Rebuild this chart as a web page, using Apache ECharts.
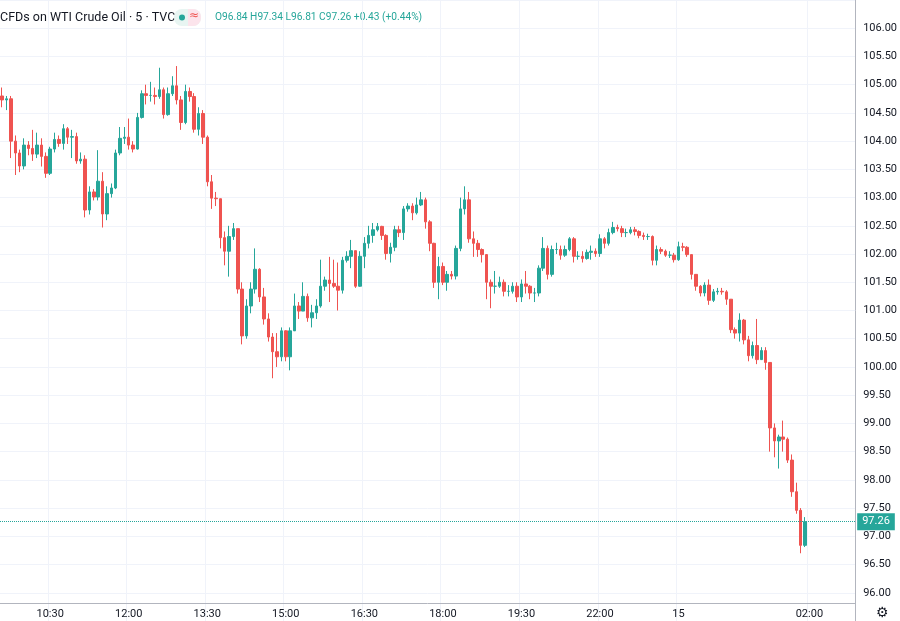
<!DOCTYPE html>
<html>
<head>
    <meta charset='utf-8'>
    <script src="https://cdn.jsdelivr.net/npm/echarts@6/dist/echarts.min.js"></script>
</head>
<body>
<style>
    html, body, #main {
        width: 100%;
        height: 100%;
        margin: 0;
        padding: 0;
        background: #fff;
    }
</style>
<div id="main"></div>
<script>
    // 5-minute candles
    var firstOpen = 104.80;
    var closes = [
        104.73, 104.75, 104.00, 103.79, 103.56, 103.93, 103.87, 103.77, 103.93, 103.73,
        103.43, 103.86, 104.03, 103.96, 104.22, 104.07, 104.08, 103.65, 103.68, 102.78,
        103.10, 103.01, 103.29, 102.71, 103.07, 103.17, 103.79, 104.05, 104.07, 103.93,
        103.86, 104.42, 104.84, 104.81, 104.81, 104.79, 104.91, 104.47, 104.84, 104.98,
        104.73, 104.33, 104.88, 104.79, 104.21, 104.49, 104.07, 103.28, 102.99, 102.98,
        102.29, 102.05, 102.31, 102.45, 101.38, 100.55, 101.08, 101.38, 101.73, 101.24,
        100.85, 100.53, 100.27, 100.18, 100.64, 100.18, 100.64, 101.08, 100.99, 101.25,
        100.87, 100.96, 101.08, 101.43, 101.54, 101.48, 101.43, 101.36, 101.89, 101.96,
        102.06, 101.43, 101.96, 102.19, 102.33, 102.43, 102.49, 102.33, 102.01, 102.12,
        102.43, 102.38, 102.80, 102.85, 102.73, 102.87, 102.96, 102.57, 102.19, 101.50,
        101.78, 101.50, 101.64, 101.61, 102.10, 102.80, 102.96, 102.27, 102.19, 102.08,
        101.99, 101.50, 101.43, 101.43, 101.50, 101.34, 101.34, 101.43, 101.24, 101.47,
        101.43, 101.31, 101.31, 101.75, 102.10, 101.64, 102.08, 102.08, 101.98, 102.08,
        102.27, 101.96, 101.96, 101.92, 102.03, 102.05, 102.01, 102.27, 102.19, 102.38,
        102.47, 102.45, 102.38, 102.38, 102.43, 102.40, 102.33, 102.31, 102.31, 101.89,
        102.08, 102.05, 101.98, 101.98, 101.90, 102.13, 102.12, 101.99, 101.64, 101.43,
        101.31, 101.45, 101.18, 101.33, 101.34, 101.33, 101.20, 100.66, 100.60, 100.83,
        100.48, 100.20, 100.38, 100.13, 100.29, 100.08, 98.92, 98.69, 98.76, 98.72,
        98.35, 97.79, 97.46, 96.84, 97.26
    ];
    var highs = [
        104.95, 104.80, 104.80, 104.10, 103.85, 104.05, 104.00, 104.20, 104.15, 104.05,
        103.80, 103.90, 104.15, 104.10, 104.30, 104.25, 104.20, 104.15, 103.80, 103.75,
        103.20, 103.15, 103.84, 103.45, 103.20, 103.25, 103.85, 104.25, 104.25, 104.40,
        104.00, 104.50, 104.90, 105.00, 105.05, 104.95, 105.30, 104.95, 104.95, 105.15,
        105.33, 104.80, 105.00, 104.95, 104.85, 104.60, 104.55, 104.10, 103.40, 103.10,
        102.98, 102.40, 102.50, 102.55, 102.45, 101.50, 101.20, 101.50, 102.10, 101.75,
        101.40, 100.95, 100.60, 100.60, 100.70, 100.65, 100.70, 101.30, 101.15, 101.50,
        101.30, 101.10, 101.20, 101.90, 101.60, 101.95, 101.90, 101.85, 101.95, 102.05,
        102.25, 102.06, 102.05, 102.30, 102.50, 102.55, 102.55, 102.50, 102.35, 102.20,
        102.50, 102.50, 102.85, 102.90, 102.90, 103.00, 103.10, 103.00, 102.60, 102.20,
        101.95, 101.85, 101.70, 101.70, 102.15, 103.00, 103.20, 103.10, 102.40, 102.25,
        102.10, 102.00, 101.55, 101.70, 101.60, 101.55, 101.45, 101.50, 101.50, 101.55,
        101.70, 101.45, 101.40, 101.80, 102.30, 102.15, 102.15, 102.20, 102.15, 102.15,
        102.30, 102.30, 102.05, 102.05, 102.08, 102.15, 102.10, 102.35, 102.30, 102.45,
        102.57, 102.52, 102.50, 102.45, 102.48, 102.48, 102.42, 102.38, 102.36, 102.33,
        102.15, 102.12, 102.08, 102.05, 102.02, 102.22, 102.20, 102.14, 101.99, 101.64,
        101.45, 101.50, 101.55, 101.38, 101.40, 101.40, 101.36, 101.20, 100.70, 100.95,
        100.85, 100.55, 100.45, 100.85, 100.35, 100.35, 100.08, 99.00, 98.80, 99.05,
        98.75, 98.45, 97.95, 97.50, 97.34
    ];
    var lows = [
        104.60, 104.55, 103.70, 103.40, 103.45, 103.50, 103.75, 103.65, 103.70, 103.55,
        103.35, 103.40, 103.80, 103.90, 103.85, 103.95, 103.70, 103.60, 103.60, 102.65,
        102.70, 102.95, 102.95, 102.47, 102.60, 103.00, 103.15, 103.75, 103.95, 103.85,
        103.80, 103.85, 104.40, 104.65, 104.70, 104.65, 104.75, 104.40, 104.45, 104.80,
        104.65, 104.20, 104.30, 104.70, 104.15, 104.10, 103.95, 103.20, 102.80, 102.85,
        102.10, 101.80, 101.60, 102.25, 101.30, 100.40, 100.50, 100.95, 101.30, 101.15,
        100.75, 100.45, 99.80, 100.00, 100.10, 100.10, 99.94, 101.00, 100.85, 101.20,
        100.80, 100.70, 100.85, 101.05, 101.35, 101.15, 101.40, 101.00, 101.30, 101.85,
        101.75, 101.40, 101.42, 101.75, 102.10, 102.20, 102.40, 102.25, 101.90, 101.85,
        102.05, 102.30, 102.25, 102.75, 102.60, 102.70, 102.85, 102.45, 102.05, 101.40,
        101.20, 101.45, 101.35, 101.55, 101.55, 102.05, 102.70, 102.20, 101.95, 101.95,
        101.85, 101.20, 101.04, 101.30, 101.40, 101.25, 101.25, 101.30, 101.15, 101.15,
        101.30, 101.20, 101.15, 101.25, 101.70, 101.55, 101.60, 102.00, 101.90, 101.95,
        102.05, 101.85, 101.90, 101.85, 101.90, 101.90, 101.95, 101.95, 102.10, 102.15,
        102.35, 102.40, 102.30, 102.30, 102.35, 102.33, 102.28, 102.25, 102.25, 101.80,
        101.80, 102.00, 101.95, 101.93, 101.85, 101.88, 102.05, 101.95, 101.55, 101.35,
        101.25, 101.25, 101.10, 101.15, 101.28, 101.28, 101.10, 100.60, 100.50, 100.45,
        100.40, 100.10, 100.15, 100.05, 100.20, 99.95, 98.50, 98.40, 98.20, 98.50,
        98.30, 97.70, 97.40, 96.70, 96.81
    ];
    // time labels and the bar index where each sits
    var tickIdx = [11, 29, 47, 65, 83, 101, 119, 137, 155, 185];
    var tickText = ['10:30', '12:00', '13:30', '15:00', '16:30', '18:00', '19:30', '22:00', '15', '02:00'];
    var slotCount = 196;
    var lastPrice = 97.26;

    var up = '#26a69a', down = '#ef5350';

    var cats = [];
    for (var i = 0; i < slotCount; i++) cats.push(String(i));

    var candles = closes.map(function (c, i) {
        var o = i === 0 ? firstOpen : closes[i - 1];
        return [o, c, lows[i], highs[i]];
    });

    function isTick(idx) {
        return tickIdx.indexOf(idx) >= 0;
    }

    var chart = echarts.init(document.getElementById('main'));

    chart.setOption({
        animation: false,
        backgroundColor: '#ffffff',
        grid: {
            left: 0,
            right: 38,
            top: -1.5,
            bottom: -3.5
        },
        xAxis: {
            type: 'category',
            data: cats,
            boundaryGap: true,
            offset: -18,
            axisLine: {show: true, lineStyle: {color: '#b2b5be'}},
            axisTick: {show: false},
            axisLabel: {
                interval: function (idx) { return isTick(idx); },
                formatter: function (v) {
                    var k = tickIdx.indexOf(Number(v));
                    return k >= 0 ? tickText[k] : '';
                },
                color: '#131722',
                fontSize: 11,
                fontFamily: 'Roboto',
                margin: 6
            },
            splitLine: {
                show: true,
                interval: function (idx) { return isTick(idx); },
                lineStyle: {color: '#f0f3fa'}
            }
        },
        yAxis: {
            type: 'value',
            position: 'right',
            min: 95.5,
            max: 106.5,
            interval: 0.5,
            axisLine: {show: true, lineStyle: {color: '#b2b5be'}},
            axisTick: {show: false},
            axisLabel: {
                color: '#131722',
                fontSize: 11,
                fontFamily: 'Roboto',
                margin: 8,
                formatter: function (v) {
                    if (v < 95.9 || v > 106.1) return '';
                    return v.toFixed(2);
                }
            },
            splitLine: {lineStyle: {color: '#f0f3fa'}}
        },
        series: [{
            type: 'candlestick',
            data: candles,
            barWidth: 3,
            itemStyle: {
                color: up,
                color0: down,
                borderColor: up,
                borderColor0: down,
                borderWidth: 1
            },
            markLine: {
                symbol: 'none',
                silent: true,
                lineStyle: {color: up, type: 'dotted', width: 1},
                label: {
                    position: 'end',
                    formatter: lastPrice.toFixed(2),
                    color: '#fff',
                    backgroundColor: up,
                    padding: [3, 5],
                    fontSize: 11,
                    fontFamily: 'Roboto',
                    distance: 2
                },
                data: [{yAxis: lastPrice}]
            }
        }],
        graphic: [
            {type: 'text', left: 0, top: 11, style: {text: 'CFDs on WTI Crude Oil · 5 · TVC', fill: '#131722', font: '12.5px Roboto'}},
            {type: 'rect', shape: {x: 174, y: 9, width: 27, height: 17, r: 8}, style: {fill: '#e8f5f2'}},
            {type: 'rect', shape: {x: 188, y: 9, width: 13, height: 17, r: [0, 8, 8, 0]}, style: {fill: '#fce4ec'}},
            {type: 'circle', shape: {cx: 182, cy: 17.5, r: 3}, style: {fill: up}},
            {type: 'text', left: 189, top: 10, style: {text: '≈', fill: '#ef5350', font: '12px DejaVu Sans'}},
            {type: 'text', left: 215, top: 12, style: {text: 'O96.84 H97.34 L96.81 C97.26 +0.43 (+0.44%)', fill: up, font: '10.2px Roboto'}},
            {type: 'text', left: 876, top: 606, style: {text: '⚙', fill: '#131722', font: '14px DejaVu Sans'}}
        ]
    });
</script>
</body>
</html>
